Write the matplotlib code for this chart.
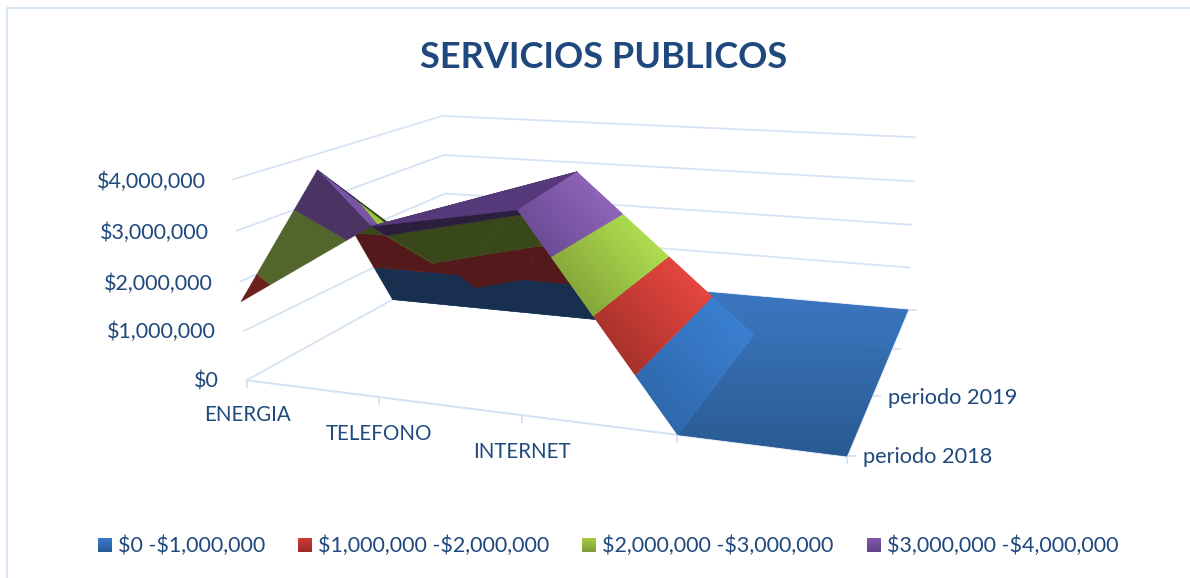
import numpy as np
import matplotlib
matplotlib.use('Agg')
import matplotlib.pyplot as plt
from matplotlib.colors import to_rgb
from matplotlib.patches import Polygon

title = 'SERVICIOS PUBLICOS'
categories = ['ENERGIA', 'TELEFONO', 'INTERNET', '', '']
series_labels = ['periodo 2018', 'periodo 2019', '', '']
periodo_2018 = [1600000, 3300000, 3800000, 0, 0]
periodo_2019 = [3660000, 1700000, 3950000, 0, 0]
blank_a = [0, 0, 0, 0, 0]
blank_b = [0, 0, 0, 0, 0]
value_ticks = [0, 1000000, 2000000, 3000000, 4000000]
value_labels = ['$0', '$1,000,000', '$2,000,000', '$3,000,000', '$4,000,000']
legend_labels = ['$0 -$1,000,000', '$1,000,000 -$2,000,000',
                 '$2,000,000 -$3,000,000', '$3,000,000 -$4,000,000']

Z = np.array([periodo_2018, periodo_2019, blank_a, blank_b], dtype=float) / 1e6  # [series, category]

plt.rcParams['font.family'] = ['Lato', 'DejaVu Sans']
TXT = '#1f497d'
GRID = '#d6e3f4'

fig = plt.figure(figsize=(11.9, 5.78), dpi=100)
ax = fig.add_axes([0, 0, 1, 1])
ax.set_xlim(0, 1190); ax.set_ylim(578, 0); ax.axis('off')

# camera: calibrated from the chart's box corners and ticks
cal = [((0,0,0),(247,379)), ((1,0,0),(379,398)), ((2,0,0),(522,417)), ((3,0,0),(676,435)),
       ((4,0,0),(843,455)), ((4,1,0),(876,396)), ((4,2,0),(896,348)), ((4,3,0),(905,310)),
       ((0,2,0),(393,299)), ((0,3,0),(447,270)), ((0,0,4),(232,180)), ((0,3,4),(443,115)),
       ((4,3,4),(916,138))]
A = []
for (X, Y, W), (px, py) in cal:
    A.append([X, Y, W, 1, 0, 0, 0, 0, -px*X, -px*Y, -px*W, -px])
    A.append([0, 0, 0, 0, X, Y, W, 1, -py*X, -py*Y, -py*W, -py])
P = np.linalg.svd(np.array(A, float))[2][-1].reshape(3, 4)


def project(pts):
    pts = np.atleast_2d(np.array(pts, float))
    h = np.c_[pts, np.ones(len(pts))] @ P.T
    return h[:, :2] / h[:, 2:3]


def cut(poly, lim, above):
    out = []
    for i in range(len(poly)):
        a, b = np.array(poly[i], float), np.array(poly[(i + 1) % len(poly)], float)
        ka = a[2] >= lim if above else a[2] <= lim
        kb = b[2] >= lim if above else b[2] <= lim
        if ka:
            out.append(a)
        if ka != kb:
            out.append(a + (lim - a[2]) / (b[2] - a[2]) * (b - a))
    return out


def band(poly, lo, hi):
    p = cut(poly, lo, True)
    if len(p) < 3:
        return []
    p = cut(p, hi, False)
    return p if len(p) >= 3 else []


layer = [1]


def fill(verts, c0, c1=None, direction=(1, 0), span=None):
    layer[0] += 1
    if c1 is None:
        ax.add_patch(Polygon(verts, closed=True, fc=c0, ec=c0, lw=0.4, zorder=layer[0]))
        return
    patch = Polygon(verts, closed=True, fc=c1, ec='none', zorder=layer[0])
    ax.add_patch(patch)
    x0, y0 = np.floor(verts.min(0)); x1, y1 = np.ceil(verts.max(0))
    xs, ys = np.meshgrid(np.arange(x0, x1 + 1) + .5, np.arange(y0, y1 + 1) + .5)
    d = np.array(direction, float)
    tv = verts @ d
    lo, hi = span if span else (tv.min(), tv.max())
    t = np.clip((xs * d[0] + ys * d[1] - lo) / (hi - lo), 0, 1)[..., None]
    img = np.array(to_rgb(c0)) * (1 - t) + np.array(to_rgb(c1)) * t
    im = ax.imshow(img, extent=(x0, x1 + 1, y1 + 1, y0), aspect='auto', zorder=layer[0] + .5,
                   interpolation='bilinear')
    im.set_clip_path(patch)
    ax.set_xlim(0, 1190); ax.set_ylim(578, 0)


BANDS = [(0, 1), (1, 2), (2, 3), (3, 4.5)]
FLAT = {
    'under': ['#182f4f', '#54191a', '#39481b', '#2c1f3e'],
    'front': ['#2a5a94', '#6d1f1e', '#52652a', '#4b3464'],
    'side':  ['#2f68ad', '#b5352f', '#9cc63f', '#7a55a6'],
    'roof':  ['#2a5a94', '#54191a', '#39481b', '#56397a'],
}
STRIP = [('#2f68ad', '#3b80d2'), ('#a8322c', '#e6473f'), ('#86a63a', '#afdf50'), ('#6c4c96', '#8f65ba')]


def face(cells, kind):
    corners = [(c, s, Z[s, c]) for s, c in cells]
    for b, (lo, hi) in enumerate(BANDS):
        p = band(corners, lo, hi)
        if not p:
            continue
        v = project(p)
        if kind == 'strip':
            fill(v, STRIP[b][0], STRIP[b][1], (0.75, -0.65))
        else:
            fill(v, FLAT[kind][b])


# walls and floor edges
for w in value_ticks:
    q = project([(0, 0, w / 1e6), (0, 3, w / 1e6), (4, 3, w / 1e6)])
    ax.plot(q[:, 0], q[:, 1], color=GRID, lw=1.3, zorder=0, solid_capstyle='butt')
q = project([(0, 0, 0), (4, 0, 0), (4, 3, 0)])
ax.plot(q[:, 0], q[:, 1], color=GRID, lw=1.5, zorder=0)
for c in range(len(categories)):
    a = project([(c, 0, 0)])[0]
    ax.plot([a[0], a[0]], [a[1], a[1] + 7], color=GRID, lw=1.3, zorder=0)
for s in range(len(series_labels)):
    a = project([(4, s, 0)])[0]
    ax.plot([a[0], a[0] + 8], [a[1], a[1]], color=GRID, lw=1.3, zorder=0)

# flat zero part of the surface
v = project([(0, 3, 0), (4, 3, 0), (4, 2, 0), (0, 2, 0)])
fill(v, '#3a75be', '#366fb3', (0, 1), (300, 350))
v = project([(3, 2, 0), (4, 2, 0), (4, 0, 0), (3, 0, 0)])
fill(v, '#366fb3', '#2a5a92', (0, 1), (340, 456))

# surface, painted from the far side to the near side
face([(1, 0), (1, 1), (2, 1)], 'under')
face([(2, 2), (2, 1), (1, 2)], 'under')
face([(1, 1), (2, 1), (1, 2)], 'under')
face([(1, 0), (2, 0), (2, 1)], 'under')
face([(0, 1), (1, 1), (1, 0)], 'side')
face([(0, 0), (0, 1), (1, 0)], 'front')
face([(0, 1), (1, 1), (1, 2)], 'under')
face([(0, 1), (0, 2), (1, 2)], 'roof')
face([(0, 2), (0, 3), (2, 3), (1, 2)], 'strip')

# frame
ax.plot([7, 7, 1190], [578, 8, 8], color='#d6e4f5', lw=1.4, zorder=0)

# texts
ax.text(604, 57, title, color=TXT, fontsize=26, fontweight='bold', ha='center', va='center', parse_math=False)
val_pos = [(219, 381), (216, 332), (213, 284), (209, 233), (206, 182)]
for lab, (x, y) in zip(value_labels, val_pos):
    ax.text(x, y, lab, color=TXT, fontsize=15.5, ha='right', va='center', parse_math=False)
cat_y = [415, 434, 452]
for lab, x, y in zip(categories, [248, 379, 522], cat_y):
    ax.text(x, y, lab, color=TXT, fontsize=14.8, ha='center', va='center', parse_math=False)
for lab, x, y in zip(series_labels, [863, 888], [457, 398]):
    ax.text(x, y, lab, color=TXT, fontsize=15.7, ha='left', va='center', parse_math=False)

# legend
leg_x = [98, 298, 582, 867]
LEG = [('#3a7ac8', '#2a5a94'), ('#d03a34', '#9a2c28'), ('#a4cc44', '#7f9a38'), ('#8258ad', '#5f4484')]
for x, lab, (c0, c1) in zip(leg_x, legend_labels, LEG):
    fill(np.array([[x, 538], [x + 14, 538], [x + 14, 552], [x, 552]], float), c0, c1, (0, 1))
    ax.text(x + 20, 546, lab, color=TXT, fontsize=15.5, ha='left', va='center', parse_math=False)

fig.savefig('out.png', dpi=100)
